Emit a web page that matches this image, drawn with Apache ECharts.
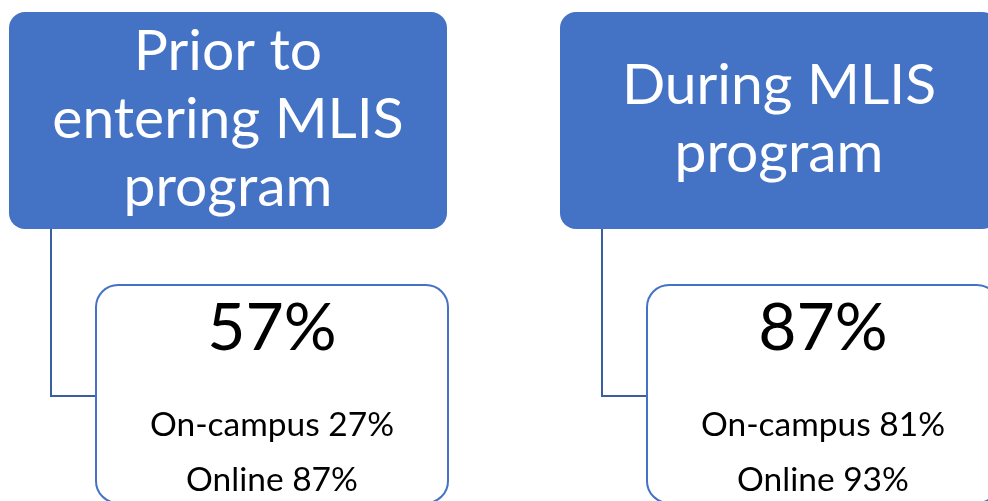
<!DOCTYPE html>
<html>
<head>
<meta charset="utf-8">
<title>MLIS program stages</title>
<script src="https://cdn.jsdelivr.net/npm/echarts@6/dist/echarts.min.js"></script>
<style>
  html, body { margin: 0; padding: 0; background: #ffffff; }
  #chart { width: 988px; height: 501px; }
</style>
</head>
<body>
<div id="chart"></div>
<script>
// Stage headings and the share reported for each stage
const stages = ['Prior to\nentering MLIS\nprogram', 'During MLIS\nprogram'];
const overall = [57, 87];
const onCampus = [27, 81];
const online = [87, 93];

const FONT = 'Lato, "Open Sans", sans-serif';
const BLUE = '#4472C4';
const LINK = '#3A5E9E';

// Layout of one stage column (relative to its left edge)
const COL_X = [9, 560];
const HEAD = { top: 12, w: 438, h: 217, r: 16 };
const CHILD = { dx: 87, top: 285, w: 352, h: 218, r: 22 };
const LINK_DX = 42, LINK_Y = 396;

const chart = echarts.init(document.getElementById('chart'), null, { renderer: 'canvas' });

function renderStage(params, api) {
  const i = api.value(0);
  const x0 = COL_X[i];
  const cx = x0 + HEAD.w / 2;
  const childX = x0 + CHILD.dx;
  const childCx = childX + CHILD.w / 2;
  return {
    type: 'group',
    children: [
      // connector from heading down and across to the detail box
      {
        type: 'polyline',
        shape: { points: [[x0 + LINK_DX, HEAD.top + HEAD.h], [x0 + LINK_DX, LINK_Y], [childX, LINK_Y]] },
        style: { stroke: LINK, lineWidth: 2, fill: null }
      },
      // heading box
      {
        type: 'rect',
        shape: { x: x0, y: HEAD.top, width: HEAD.w, height: HEAD.h, r: HEAD.r },
        style: { fill: BLUE }
      },
      {
        type: 'text',
        style: {
          x: cx, y: HEAD.top + HEAD.h / 2 - 1,
          text: stages[i],
          fill: '#ffffff',
          font: '57px ' + FONT,
          lineHeight: 68,
          align: 'center', verticalAlign: 'middle'
        }
      },
      // detail box
      {
        type: 'rect',
        shape: { x: childX, y: CHILD.top, width: CHILD.w, height: CHILD.h, r: CHILD.r },
        style: { fill: '#ffffff', stroke: BLUE, lineWidth: 2 }
      },
      {
        type: 'text',
        style: {
          x: childCx, y: 329,
          text: overall[i] + '%',
          fill: '#000000',
          font: '66px ' + FONT,
          align: 'center', verticalAlign: 'middle'
        }
      },
      {
        type: 'text',
        style: {
          x: childCx, y: 425,
          text: 'On-campus ' + onCampus[i] + '%',
          fill: '#000000',
          font: '33.5px ' + FONT,
          align: 'center', verticalAlign: 'middle'
        }
      },
      {
        type: 'text',
        style: {
          x: childCx, y: 480,
          text: 'Online ' + online[i] + '%',
          fill: '#000000',
          font: '33.5px ' + FONT,
          align: 'center', verticalAlign: 'middle'
        }
      }
    ]
  };
}

chart.setOption({
  animation: false,
  series: [{
    type: 'custom',
    coordinateSystem: 'none',
    renderItem: renderStage,
    data: stages.map((s, i) => [i])
  }]
});
</script>
</body>
</html>
